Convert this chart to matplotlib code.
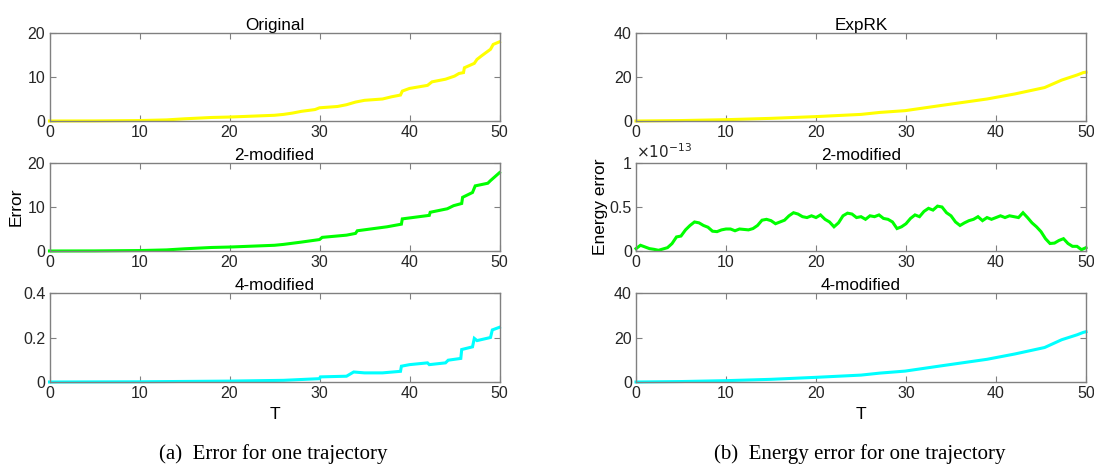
import matplotlib.pyplot as plt
import numpy as np

plt.rcParams['font.family'] = ['Liberation Sans', 'DejaVu Sans']

# left column: error for one trajectory
orig_t = [0, 5, 10, 13, 15, 18, 20, 22.5, 25, 26, 27, 28, 29.5, 30, 32, 33, 34, 35, 37, 38, 39, 39.2,
          40, 42, 42.5, 44, 45, 45.5, 46, 46.1, 47.2, 47.5, 48, 49, 49.3, 50]
orig_e = [0, 0.02, 0.1, 0.25, 0.5, 0.8, 0.9, 1.1, 1.3, 1.5, 1.8, 2.2, 2.6, 3.0, 3.3, 3.7, 4.3, 4.7, 5.0, 5.5,
          5.9, 6.8, 7.4, 8.1, 8.9, 9.5, 10.2, 10.8, 11.0, 12.1, 13.1, 14.0, 14.8, 16.3, 17.4, 18.0]

mod2_t = [0, 5, 10, 13, 15, 18, 20, 22.5, 25, 26, 27.9, 30, 30.3, 33, 34, 34.2, 37.5, 39.1, 39.2, 42.2,
          42.3, 44.2, 44.9, 45.8, 45.9, 47, 47.3, 48.7, 49, 50]
mod2_e = [0, 0.02, 0.1, 0.25, 0.5, 0.8, 0.9, 1.1, 1.3, 1.5, 2.0, 2.6, 3.1, 3.6, 4.0, 4.6, 5.5, 6.1, 7.3,
          8.1, 8.8, 9.6, 10.3, 10.8, 12.2, 13.3, 14.8, 15.4, 16.0, 17.8]

mod4_t = [0, 10, 20, 26, 30, 30.1, 33, 33.8, 35, 37, 39, 39.1, 40, 42, 42.2, 44, 44.3, 45.7, 45.8, 47,
          47.2, 47.5, 49, 49.2, 50]
mod4_e = [0, 0.001, 0.004, 0.0075, 0.015, 0.023, 0.026, 0.045, 0.041, 0.041, 0.048, 0.071, 0.078, 0.086,
          0.078, 0.086, 0.098, 0.106, 0.146, 0.158, 0.196, 0.186, 0.20, 0.234, 0.246]

# right column: energy error for one trajectory
exprk_t = [0, 5, 10, 15, 20, 25, 27.1, 29.9, 33.8, 39, 42.1, 45.4, 47.3, 49, 49.7, 50]
exprk_e = [0, 0.2, 0.6, 1.2, 2.0, 3.0, 3.9, 4.7, 7.0, 10.0, 12.3, 15.2, 18.6, 20.9, 22.0, 22.2]

energy2_t = np.arange(0, 50.5, 0.5)
energy2_e = [0.027, 0.065, 0.046, 0.027, 0.019, 0.008, 0.023, 0.038, 0.084, 0.16,
             0.17, 0.24, 0.29, 0.33, 0.32, 0.29, 0.27, 0.225, 0.22, 0.24,
             0.25, 0.25, 0.23, 0.25, 0.245, 0.24, 0.255, 0.29, 0.35, 0.36,
             0.345, 0.31, 0.33, 0.35, 0.40, 0.435, 0.42, 0.39, 0.38, 0.40,
             0.38, 0.41, 0.36, 0.33, 0.275, 0.32, 0.40, 0.43, 0.42, 0.38,
             0.39, 0.36, 0.40, 0.39, 0.41, 0.37, 0.36, 0.33, 0.255, 0.275,
             0.31, 0.37, 0.41, 0.39, 0.45, 0.485, 0.465, 0.51, 0.50, 0.435,
             0.40, 0.33, 0.29, 0.32, 0.345, 0.36, 0.39, 0.345, 0.38, 0.36,
             0.38, 0.40, 0.38, 0.40, 0.39, 0.38, 0.435, 0.38, 0.32, 0.275,
             0.22, 0.14, 0.085, 0.09, 0.12, 0.14, 0.085, 0.053, 0.053, 0.015,
             0.038]  # x 1e-13

mod4r_t = [0, 5, 10, 15, 20, 25, 27.1, 29.9, 33.8, 39, 42.1, 45.4, 47.3, 49, 49.7, 50]
mod4r_e = [0, 0.2, 0.6, 1.2, 2.1, 3.1, 4.0, 4.9, 7.2, 10.2, 12.6, 15.5, 19.0, 21.2, 22.3, 22.6]

YELLOW, GREEN, CYAN = '#ffff00', '#00ff00', '#00ffff'

fig = plt.figure(figsize=(10.94, 4.66), dpi=100)
W, H = 1094, 466


def make_ax(x0, y_top, y_bot, w=450):
    ax = fig.add_axes([x0 / W, 1 - y_bot / H, w / W, (y_bot - y_top) / H])
    for s in ax.spines.values():
        s.set_color('#808080')
        s.set_linewidth(1.0)
    ax.tick_params(direction='in', top=True, right=True, length=4, width=0.8,
                   color='#808080', labelsize=11.5, labelcolor='#262626', pad=3)
    ax.set_xlim(0, 50)
    ax.set_xticks([0, 10, 20, 30, 40, 50])
    return ax


rows = [(33, 121), (163, 251), (293, 382)]
lx, rx = 49.5, 636

panels = [
    (lx, rows[0], orig_t, orig_e, YELLOW, 'Original', [0, 10, 20], (0, 20)),
    (lx, rows[1], mod2_t, mod2_e, GREEN, '2-modified', [0, 10, 20], (0, 20)),
    (lx, rows[2], mod4_t, mod4_e, CYAN, '4-modified', [0, 0.2, 0.4], (0, 0.4)),
    (rx, rows[0], exprk_t, exprk_e, YELLOW, 'ExpRK', [0, 20, 40], (0, 40)),
    (rx, rows[1], energy2_t, energy2_e, GREEN, '2-modified', [0, 0.5, 1], (0, 1)),
    (rx, rows[2], mod4r_t, mod4r_e, CYAN, '4-modified', [0, 20, 40], (0, 40)),
]

axes = []
for x0, (yt, yb), t, e, c, title, yt_ticks, ylim in panels:
    ax = make_ax(x0, yt, yb)
    ax.plot(t, e, color=c, lw=2.2, solid_joinstyle='miter', clip_on=False)
    ax.set_ylim(*ylim)
    ax.set_yticks(yt_ticks)
    ax.set_yticklabels([('%g' % v) for v in yt_ticks])
    ax.set_title(title, fontsize=12.3, pad=2, color='black')
    axes.append(ax)

axes[1].set_ylabel('Error', fontsize=12.5, labelpad=3)
axes[4].set_ylabel('Energy error', fontsize=12.5, labelpad=1)
axes[2].set_xlabel('T', fontsize=12.5, labelpad=4)
axes[5].set_xlabel('T', fontsize=12.5, labelpad=4)
axes[4].text(0.0, 1.02, r'$\times10^{-13}$', transform=axes[4].transAxes,
             fontsize=11, color='#262626', ha='left', va='bottom')

fig.text(273 / W, 1 - 454 / H, '(a)  Error for one trajectory', family='Liberation Serif',
         fontsize=15, ha='center', va='center')
fig.text(860 / W, 1 - 454 / H, '(b)  Energy error for one trajectory', family='Liberation Serif',
         fontsize=15, ha='center', va='center')

fig.savefig('out.png', dpi=100)
